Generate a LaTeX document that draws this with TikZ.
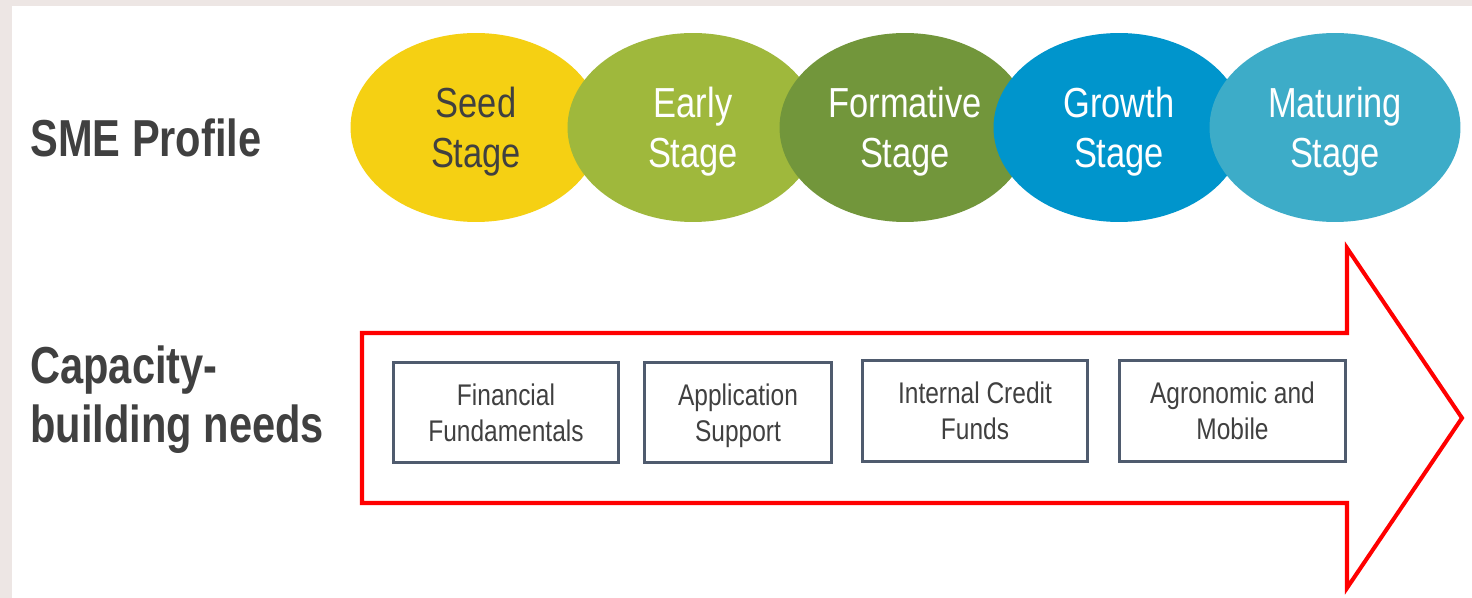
\documentclass[tikz,border=0pt]{standalone}
\usepackage{fontspec}
\setmainfont{Liberation Sans}
\newfontfamily\narrowfont[FakeStretch=0.82]{Liberation Sans}
\newfontfamily\headfont[FakeStretch=0.8]{Liberation Sans Bold}
\usetikzlibrary{shapes.geometric}

\definecolor{seedc}{HTML}{F5D013}
\definecolor{earlyc}{HTML}{9FB83C}
\definecolor{formc}{HTML}{72963B}
\definecolor{growc}{HTML}{0095CC}
\definecolor{maturec}{HTML}{3DACC8}
\definecolor{textc}{HTML}{404040}
\definecolor{boxc}{HTML}{4F5B6E}
\definecolor{bgc}{HTML}{EDE6E4}

\tikzset{
  stage/.style={ellipse, minimum width=5.02cm, minimum height=3.78cm, inner sep=0pt,
    text depth=0pt, align=center, text=white,
    font=\narrowfont\fontsize{23.9}{28.5}\selectfont},
  need/.style={draw=boxc, line width=1.7pt, fill=white, minimum height=2.02cm,
    inner sep=0pt, text depth=0pt, align=center, text=textc,
    font=\narrowfont\fontsize{17}{20.5}\selectfont},
  heading/.style={inner sep=0pt, align=left, text=textc,
    font=\headfont\fontsize{29.6}{34.1}\selectfont}
}

\begin{document}
\begin{tikzpicture}[x=0.02cm, y=-0.02cm]

      % Background
      \useasboundingbox (0,0) rectangle (1472,598);
      \fill[bgc] (0,0) rectangle (1472,598);
      \fill[white] (12,6) rectangle (1472,598);

      % Row labels
      \node[heading, anchor=base west] (profile) at (30,157) {SME Profile};
      \node[heading, anchor=north west] (needs) at (30,345) {Capacity-\\building needs};

      % Stages
      \node[stage, fill=seedc, text=textc] (seed) at (476,127.5) {Seed\\Stage};
      \node[stage, fill=earlyc] (early) at (693,127.5) {Early\\Stage};
      \node[stage, fill=formc] (formative) at (905,127.5) {Formative\\Stage};
      \node[stage, fill=growc] (growth) at (1119,127.5) {Growth\\Stage};
      \node[stage, fill=maturec] (maturing) at (1335,127.5) {Maturing\\Stage};

      % Arrow
      \draw[red, line width=2.3pt, line join=miter]
        (362,333) -- (1347,333) -- (1347,248) -- (1462,418)
        -- (1347,588) -- (1347,503) -- (362,503) -- cycle;

      % Needs
      \node[need, minimum width=4.52cm] (fin) at (506,412.5) {Financial\\Fundamentals};
      \node[need, minimum width=3.76cm] (app) at (738,412.5) {Application\\Support};
      \node[need, minimum width=4.52cm] (icf) at (975,411) {Internal Credit\\Funds};
      \node[need, minimum width=4.54cm] (agro) at (1232.5,411) {Agronomic and\\Mobile};

    \end{tikzpicture}
\end{document}
